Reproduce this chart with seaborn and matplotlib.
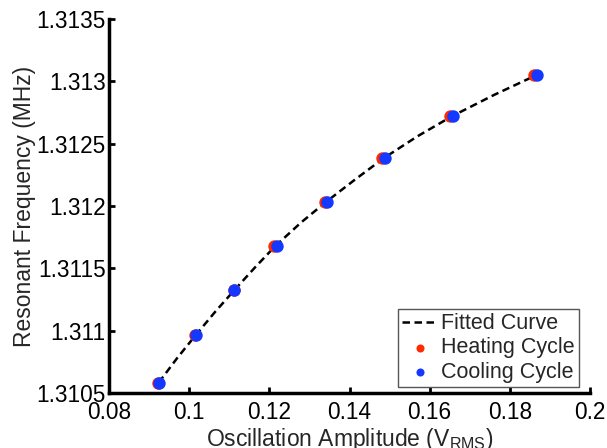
import matplotlib
matplotlib.use("Agg")
import matplotlib.pyplot as plt
import seaborn as sns
import pandas as pd

# ---- data ----
heat_x = [0.0923, 0.1015, 0.1112, 0.1212, 0.1338, 0.1482, 0.1651, 0.1861]
heat_y = [1.310583, 1.310963, 1.311326, 1.311679, 1.312034, 1.312385, 1.312719, 1.313048]
cool_x = [0.0925, 0.1016, 0.1113, 0.1218, 0.1345, 0.1489, 0.1659, 0.1869]
cool_y = [1.310583, 1.310963, 1.311326, 1.311679, 1.312034, 1.312385, 1.312719, 1.313048]
fit_x = [0.0924, 0.0970, 0.1016, 0.1064, 0.1113, 0.1165, 0.1215, 0.1280, 0.1342,
         0.1415, 0.1486, 0.1570, 0.1655, 0.1760, 0.1865]
fit_y = [1.310583, 1.310780, 1.310963, 1.311148, 1.311326, 1.311510, 1.311679, 1.311870, 1.312034,
         1.312215, 1.312385, 1.312560, 1.312719, 1.312890, 1.313048]
xticks = [0.08, 0.1, 0.12, 0.14, 0.16, 0.18, 0.2]
xticklabels = ["0.08", "0.1", "0.12", "0.14", "0.16", "0.18", "0.2"]
yticks = [1.3105, 1.311, 1.3115, 1.312, 1.3125, 1.313, 1.3135]
yticklabels = ["1.3105", "1.311", "1.3115", "1.312", "1.3125", "1.313", "1.3135"]

sns.set_style("ticks")
plt.rcParams["font.family"] = ["Liberation Sans", "DejaVu Sans"]
plt.rcParams["mathtext.fontset"] = "custom"
plt.rcParams["mathtext.rm"] = "Liberation Sans"
plt.rcParams["mathtext.it"] = "Liberation Sans"

red = "#ff2a00"
blue = "#1438ff"

fig = plt.figure(figsize=(6.07, 4.48), dpi=100)
ax = fig.add_axes([109 / 607, 1 - 393 / 448, (590 - 109) / 607, (393 - 19) / 448])

fit_df = pd.DataFrame({"x": fit_x, "y": fit_y})
heat_df = pd.DataFrame({"x": heat_x, "y": heat_y})
cool_df = pd.DataFrame({"x": cool_x, "y": cool_y})

sns.lineplot(data=fit_df, x="x", y="y", ax=ax, color="black", lw=1.8,
             linestyle=(0, (3, 1.8)), sort=False, label="Fitted Curve", zorder=2)
sns.scatterplot(data=heat_df, x="x", y="y", ax=ax, color=red, s=80,
                linewidth=0, label="Heating Cycle", zorder=3)
sns.scatterplot(data=cool_df, x="x", y="y", ax=ax, color=blue, s=80,
                linewidth=0, label="Cooling Cycle", zorder=4)

ax.set_xlim(0.08, 0.2)
ax.set_ylim(1.3105, 1.3135)
ax.set_xticks(xticks)
ax.set_xticklabels(xticklabels)
ax.set_yticks(yticks)
ax.set_yticklabels(yticklabels)
ax.tick_params(direction="in", length=4, width=2, labelsize=16.3, colors="black")
ax.tick_params(axis="x", pad=6)
ax.tick_params(axis="y", pad=2.5)
for s in ["top", "right"]:
    ax.spines[s].set_visible(False)
for s in ["left", "bottom"]:
    ax.spines[s].set_linewidth(2.5)
    ax.spines[s].set_color("black")

ax.set_xlabel(r"Oscillation Amplitude (V$_{\mathrm{RMS}}$)", fontsize=16.5, labelpad=1.5)
ax.set_ylabel("Resonant Frequency (MHz)", fontsize=16.5, labelpad=0)

leg = ax.legend(loc="lower right", bbox_to_anchor=(1.0 - 11 / 481, 6 / 374), fontsize=15.5,
                frameon=True, fancybox=False, edgecolor="#555555", framealpha=1,
                handlelength=1.6, handletextpad=0.2, labelspacing=0.15,
                borderpad=0.2, borderaxespad=0, markerscale=0.65)
leg.get_frame().set_linewidth(1.0)

fig.savefig("out.png", dpi=100)
